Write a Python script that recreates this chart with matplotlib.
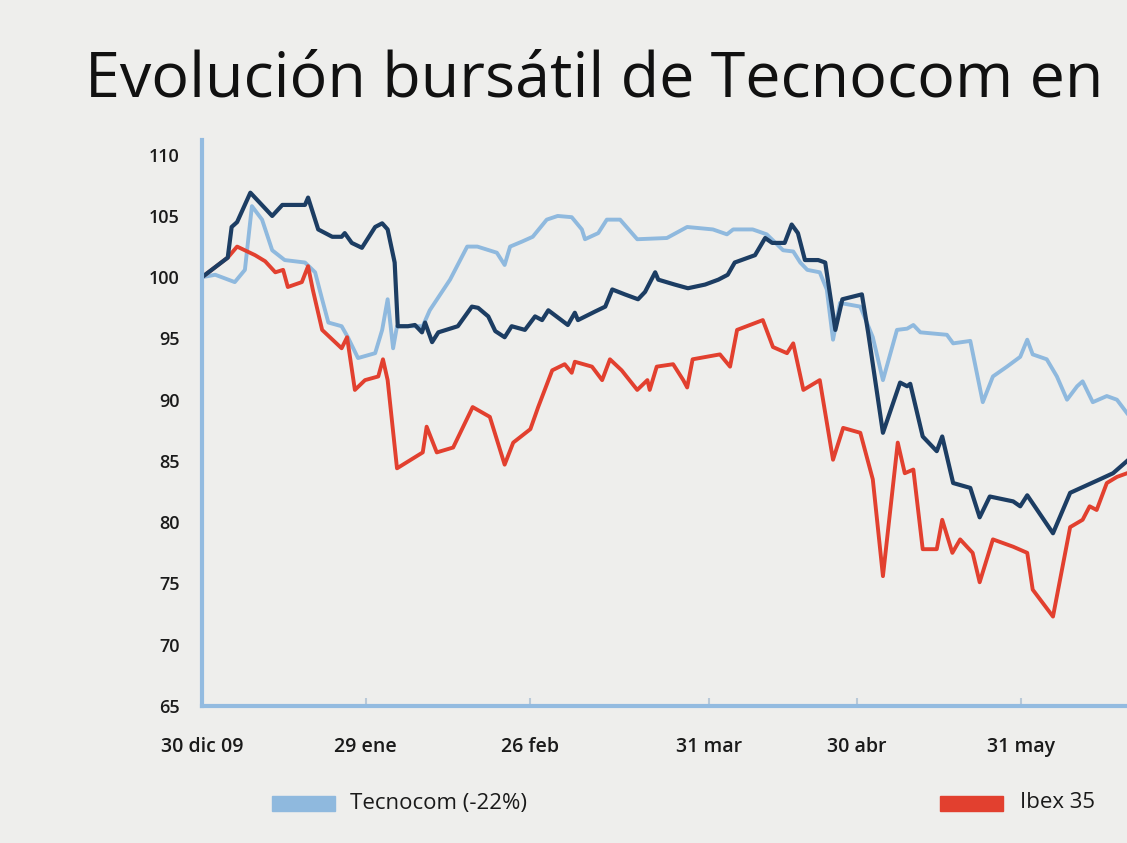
import matplotlib
matplotlib.use("Agg")
import matplotlib.pyplot as plt
from matplotlib.patches import Rectangle

# x = trading-day index since 30 dic 09, y = base 100
tecnocom_x = [0, 1.7, 4.2, 5.5, 6.4, 7.7, 9.0, 10.6, 13.2, 14.5, 15.4, 16.2, 17.9, 18.7, 20.0,
              22.2, 23.1, 23.8, 24.5, 25.0, 28.3, 29.2, 31.8, 34.0, 35.3, 37.8, 38.8, 39.5, 41.0,
              42.4, 44.2, 45.6, 47.4, 48.7, 49.1, 50.8, 51.9, 53.6, 55.8, 59.6, 62.2, 65.5, 67.3,
              68.1, 70.6, 72.4, 74.5, 75.8, 76.7, 77.6, 79.2, 80.1, 80.9, 81.8, 84.4, 86.0, 87.3,
              89.1, 90.4, 91.2, 92.1, 95.5, 96.3, 98.5, 100.1, 101.4, 103.2, 104.9, 105.8, 106.5,
              108.3, 109.6, 110.9, 112.2, 112.9, 114.2, 116.0, 117.3, 118.6]
tecnocom_y = [100.0, 100.2, 99.6, 100.6, 105.8, 104.7, 102.2, 101.4, 101.2, 100.4, 98.2, 96.3, 96.0,
              95.1, 93.4, 93.8, 95.7, 98.2, 94.2, 96.0, 96.0, 97.3, 99.8, 102.5, 102.5, 102.0, 101.0,
              102.5, 102.9, 103.3, 104.7, 105.0, 104.9, 103.9, 103.1, 103.6, 104.7, 104.7, 103.1,
              103.2, 104.1, 103.9, 103.5, 103.9, 103.9, 103.5, 102.2, 102.1, 101.2, 100.6, 100.4,
              99.0, 94.9, 97.9, 97.6, 95.1, 91.6, 95.7, 95.8, 96.1, 95.5, 95.3, 94.6, 94.8, 89.8,
              91.9, 92.7, 93.5, 94.9, 93.7, 93.3, 91.9, 90.0, 91.1, 91.5, 89.8, 90.3, 90.0, 88.9]

sector_x = [0, 3.3, 3.8, 4.5, 6.2, 9.0, 10.3, 13.2, 13.6, 14.9, 16.7, 17.9, 18.3, 19.2, 20.5, 22.2,
            23.1, 23.8, 24.7, 25.1, 26.4, 27.3, 28.2, 28.6, 29.5, 30.3, 32.8, 34.6, 35.4, 36.7,
            37.6, 38.8, 39.7, 41.4, 42.7, 43.6, 44.4, 46.9, 47.8, 48.2, 50.4, 51.7, 52.6, 54.2,
            55.9, 56.8, 58.1, 58.5, 60.6, 62.3, 64.5, 66.2, 67.4, 68.3, 70.9, 72.2, 73.1, 74.7,
            75.6, 76.4, 77.3, 79.0, 79.9, 81.2, 82.1, 84.6, 85.4, 87.3, 89.5, 90.4, 90.8, 92.4,
            94.2, 94.9, 96.3, 98.5, 99.7, 101.0, 104.0, 104.9, 105.8, 109.1, 111.3, 115.1, 116.8,
            118.6]
sector_y = [100.0, 101.6, 104.1, 104.5, 106.9, 105.0, 105.9, 105.9, 106.5, 103.9, 103.3, 103.3,
            103.6, 102.8, 102.4, 104.1, 104.4, 103.9, 101.2, 96.0, 96.0, 96.1, 95.5, 96.3, 94.7,
            95.5, 96.0, 97.6, 97.5, 96.8, 95.6, 95.1, 96.0, 95.7, 96.8, 96.5, 97.3, 96.1, 97.1,
            96.5, 97.2, 97.6, 99.0, 98.6, 98.2, 98.8, 100.4, 99.8, 99.4, 99.1, 99.4, 99.8, 100.2,
            101.2, 101.8, 103.2, 102.8, 102.8, 104.3, 103.6, 101.4, 101.4, 101.2, 95.7, 98.2,
            98.6, 95.5, 87.3, 91.4, 91.1, 91.3, 87.0, 85.8, 87.0, 83.2, 82.8, 80.4, 82.1, 81.7,
            81.3, 82.2, 79.1, 82.4, 83.5, 84.0, 85.0]

ibex_x = [0, 3.3, 4.5, 6.8, 8.1, 9.4, 10.4, 11.0, 12.8, 13.6, 14.2, 15.4, 17.9, 18.6, 19.6, 20.9,
          22.6, 23.2, 23.8, 25.0, 28.3, 28.8, 30.1, 32.2, 34.7, 36.9, 38.8, 39.9, 42.1, 43.1,
          44.9, 46.5, 47.4, 47.8, 50.0, 51.3, 52.3, 53.8, 55.8, 57.1, 57.4, 58.3, 60.4, 61.7,
          62.2, 62.9, 66.4, 67.7, 68.6, 71.9, 73.2, 75.0, 75.8, 77.1, 79.2, 80.9, 82.2, 84.4,
          86.0, 87.3, 89.2, 90.1, 91.2, 92.4, 94.2, 94.9, 96.2, 97.2, 98.8, 99.7, 101.4, 104.0,
          105.8, 106.5, 109.1, 111.3, 112.9, 113.8, 114.7, 116.0, 117.3, 118.6]
ibex_y = [100.0, 101.6, 102.5, 101.8, 101.3, 100.4, 100.6, 99.2, 99.6, 100.9, 99.0, 95.7, 94.2,
          95.1, 90.8, 91.6, 91.9, 93.3, 91.6, 84.4, 85.7, 87.8, 85.7, 86.1, 89.4, 88.6, 84.7,
          86.5, 87.6, 89.4, 92.4, 92.9, 92.2, 93.1, 92.7, 91.6, 93.3, 92.4, 90.8, 91.6, 90.8,
          92.7, 92.9, 91.6, 91.0, 93.3, 93.7, 92.7, 95.7, 96.5, 94.3, 93.8, 94.6, 90.8, 91.6,
          85.1, 87.7, 87.3, 83.5, 75.6, 86.5, 84.0, 84.3, 77.8, 77.8, 80.2, 77.5, 78.6, 77.5,
          75.1, 78.6, 78.0, 77.5, 74.5, 72.3, 79.6, 80.2, 81.3, 81.0, 83.2, 83.7, 84.0]

tick_pos = [0, 21, 42, 65, 84, 105]
tick_labels = ["30 dic 09", "29 ene", "26 feb", "31 mar", "30 abr", "31 may"]
y_ticks = [65, 70, 75, 80, 85, 90, 95, 100, 105, 110]

bg = "#eeeeec"
light = "#8fb9de"
navy = "#1c3d63"
red = "#e2402f"
axis_col = "#93bbe0"

plt.rcParams['font.family'] = ['Open Sans', 'DejaVu Sans']

fig = plt.figure(figsize=(11.27, 8.43), dpi=100, facecolor=bg)
# axes runs past the right edge, like the cropped original
ax = fig.add_axes([202 / 1127, 137 / 843, 125 * 7.8 / 1127, 566 / 843])
ax.set_facecolor(bg)

ax.plot(tecnocom_x, tecnocom_y, color=light, lw=2.8, solid_joinstyle="round", zorder=2)
ax.plot(ibex_x, ibex_y, color=red, lw=2.8, solid_joinstyle="round", zorder=3)
ax.plot(sector_x, sector_y, color=navy, lw=3.0, solid_joinstyle="round", zorder=4)

ax.set_xlim(0, 125)
ax.set_ylim(65, 111.2)
ax.set_xticks(tick_pos)
ax.set_xticklabels(tick_labels)
ax.set_yticks(y_ticks)

for s in ["top", "right"]:
    ax.spines[s].set_visible(False)
for s in ["left", "bottom"]:
    ax.spines[s].set_color(axis_col)
    ax.spines[s].set_linewidth(3)
    ax.spines[s].set_zorder(5)

ax.tick_params(axis="y", length=0, pad=16, labelsize=13, labelcolor="#1a1a1a")
ax.tick_params(axis="x", length=6, width=1.5, color="#b9c9d8", direction="in",
               pad=22, labelsize=14, labelcolor="#1a1a1a")
for lab in ax.get_xticklabels() + ax.get_yticklabels():
    lab.set_fontweight("semibold")

fig.text(85 / 1127, 1 - 80 / 843, "Evolución bursátil de Tecnocom en",
         fontsize=45.3, color="#111111", va="center", ha="left")

# legend swatches and labels
fig.patches.append(Rectangle((272 / 1127, 1 - 811 / 843), 63 / 1127, 15 / 843,
                             transform=fig.transFigure, color=light))
fig.text(350 / 1127, 1 - 803 / 843, "Tecnocom (-22%)", fontsize=16, va="center",
         color="#1a1a1a")
fig.patches.append(Rectangle((940 / 1127, 1 - 811 / 843), 63 / 1127, 15 / 843,
                             transform=fig.transFigure, color=red))
fig.text(1020 / 1127, 1 - 803 / 843, "Ibex 35", fontsize=16, va="center",
         color="#1a1a1a")

fig.savefig("out.png", dpi=100, facecolor=bg)
